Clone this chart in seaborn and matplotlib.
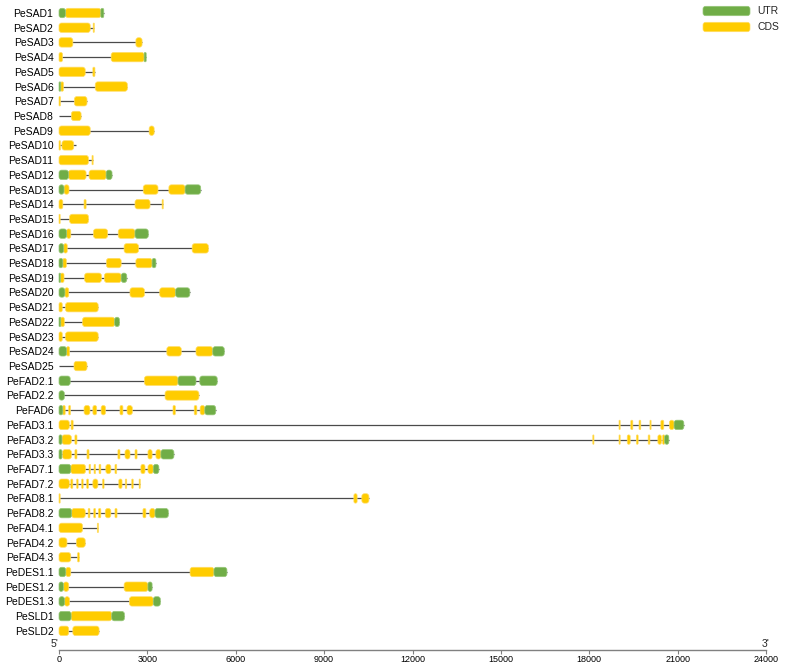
import matplotlib
matplotlib.use("Agg")
import matplotlib.pyplot as plt
from matplotlib.patches import FancyBboxPatch
import seaborn as sns

# gene structure data (bp)
genes = ["PeSAD1", "PeSAD2", "PeSAD3", "PeSAD4", "PeSAD5", "PeSAD6", "PeSAD7", "PeSAD8",
         "PeSAD9", "PeSAD10", "PeSAD11", "PeSAD12", "PeSAD13", "PeSAD14", "PeSAD15",
         "PeSAD16", "PeSAD17", "PeSAD18", "PeSAD19", "PeSAD20", "PeSAD21", "PeSAD22",
         "PeSAD23", "PeSAD24", "PeSAD25", "PeFAD2.1", "PeFAD2.2", "PeFAD6", "PeFAD3.1",
         "PeFAD3.2", "PeFAD3.3", "PeFAD7.1", "PeFAD7.2", "PeFAD8.1", "PeFAD8.2",
         "PeFAD4.1", "PeFAD4.2", "PeFAD4.3", "PeDES1.1", "PeDES1.2", "PeDES1.3",
         "PeSLD1", "PeSLD2"]

gene_len = [1520, 1200, 2820, 2960, 1220, 2320, 950, 750, 3230, 570, 1160, 1800, 4810,
            3540, 1000, 3030, 5070, 3290, 2300, 4440, 1330, 2050, 1330, 5610, 950, 5370,
            4750, 5320, 21210, 20700, 3900, 3390, 2760, 10520, 3710, 1340, 890, 690,
            5700, 3160, 3440, 2220, 1360]

utr = [
    [(0, 220), (1420, 1520)], [], [], [(2890, 2960)], [], [(0, 60)], [], [], [], [], [],
    [(0, 320), (1600, 1800)], [(0, 170), (4280, 4810)], [], [],
    [(0, 260), (2580, 3030)], [(0, 160)], [(0, 130), (3160, 3290)],
    [(0, 50), (2110, 2300)], [(0, 200), (3960, 4440)], [], [(0, 60), (1890, 2050)], [],
    [(0, 260), (5220, 5610)], [],
    [(0, 380), (4040, 4650), (4780, 5370)], [(0, 180)], [(0, 130), (4950, 5320)],
    [(20880, 21210)], [(0, 100), (20560, 20700)], [(0, 100), (3460, 3900)],
    [(0, 400), (3200, 3390)], [], [], [(0, 430), (3260, 3710)], [], [], [],
    [(0, 230), (5260, 5700)], [(0, 150), (3020, 3160)], [(0, 190), (3200, 3440)],
    [(0, 410), (1790, 2220)], [],
]

cds = [
    [(220, 1420)],
    [(0, 1060), (1160, 1200)],
    [(0, 470), (2610, 2820)],
    [(0, 120), (1770, 2890)],
    [(0, 890), (1150, 1220)],
    [(60, 150), (1230, 2320)],
    [(0, 50), (520, 950)],
    [(420, 750)],
    [(0, 1060), (3060, 3230)],
    [(0, 50), (100, 500)],
    [(0, 1000), (1120, 1160)],
    [(320, 920), (1020, 1600)],
    [(170, 340), (2860, 3360), (3730, 4280)],
    [(0, 130), (850, 920), (2580, 3090), (3500, 3540)],
    [(0, 40), (360, 1000)],
    [(260, 400), (1170, 1650), (2010, 2580)],
    [(160, 280), (2210, 2700), (4520, 5070)],
    [(130, 250), (1610, 2110), (2610, 3160)],
    [(50, 170), (870, 1440), (1540, 2110)],
    [(200, 330), (2410, 2900), (3420, 3960)],
    [(0, 110), (220, 1330)],
    [(60, 180), (800, 1890)],
    [(0, 110), (220, 1330)],
    [(260, 360), (3660, 4150), (4650, 5220)],
    [(510, 950)],
    [(2900, 4040)],
    [(3600, 4750)],
    [(130, 210), (330, 390), (850, 1050), (1150, 1280), (1430, 1580), (2070, 2170),
     (2310, 2490), (3870, 3950), (4590, 4680), (4790, 4950)],
    [(0, 350), (410, 480), (19010, 19050), (19410, 19480), (19690, 19750),
     (20060, 20100), (20430, 20530), (20720, 20880)],
    [(100, 420), (540, 610), (18120, 18160), (19010, 19050), (19290, 19390),
     (19600, 19660), (20000, 20060), (20330, 20450), (20490, 20560)],
    [(120, 420), (540, 610), (950, 1020), (2000, 2070), (2240, 2410), (2580, 2650),
     (3020, 3160), (3290, 3460)],
    [(400, 900), (1020, 1070), (1190, 1240), (1360, 1420), (1590, 1760), (1900, 1960),
     (2780, 2920), (3020, 3200)],
    [(0, 350), (400, 470), (600, 650), (770, 820), (940, 1000), (1150, 1320),
     (1480, 1530), (2030, 2140), (2250, 2300), (2470, 2520), (2720, 2760)],
    [(0, 40), (10010, 10120), (10280, 10520)],
    [(430, 890), (990, 1050), (1180, 1240), (1340, 1420), (1570, 1760), (1900, 1970),
     (2850, 2950), (3080, 3260)],
    [(0, 800), (1300, 1340)],
    [(0, 270), (590, 890)],
    [(0, 400), (630, 690)],
    [(230, 400), (4450, 5260)],
    [(150, 330), (2210, 3020)],
    [(190, 360), (2390, 3200)],
    [(410, 1790)],
    [(0, 330), (470, 1360)],
]

x_ticks = [0, 3000, 6000, 9000, 12000, 15000, 18000, 21000, 24000]

UTR_COLOR = "#70AD47"
CDS_COLOR = "#FFCC00"

sns.set_theme(style="white")
plt.rcParams["font.family"] = ["Liberation Sans", "DejaVu Sans"]

W, H = 798, 665
fig = plt.figure(figsize=(W / 100, H / 100), dpi=100)
# axes spans x 59..766 px and y 3..650 px
ax = fig.add_axes([59 / W, (H - 650) / H, 707 / W, 647 / H])

row_px = 14.71
y_top = (3 - 13) / row_px
y_bot = (650 - 13) / row_px
ax.set_xlim(0, 24000)
ax.set_ylim(y_bot, y_top)

bp_per_px = 24000 / 707
rows_per_px = 1 / row_px
aspect = rows_per_px / bp_per_px
bar_h = 9.4 / row_px
round_r = 2.6 * bp_per_px


def draw_box(x0, x1, y, color, edge):
    w = x1 - x0
    r = min(round_r, w / 2, (bar_h / aspect) / 2)
    p = FancyBboxPatch((x0, y - bar_h / 2), w, bar_h,
                       boxstyle=f"round,pad=0,rounding_size={r}",
                       mutation_aspect=aspect, facecolor=color,
                       edgecolor=edge, linewidth=0.5, zorder=3, clip_on=False)
    ax.add_patch(p)


for i, name in enumerate(genes):
    ax.plot([0, gene_len[i]], [i, i], color="#4a4a4a", lw=0.9, zorder=1,
            solid_capstyle="butt")
    for s, e in cds[i]:
        draw_box(s, e, i, CDS_COLOR, "#FFDD66")
    for s, e in utr[i]:
        draw_box(s, e, i, UTR_COLOR, "#98C87A")

ax.set_yticks(range(len(genes)))
ax.set_yticklabels(genes, fontsize=7.5, color="black")
ax.tick_params(axis="y", length=0, pad=4)

ax.set_xticks(x_ticks)
ax.set_xticklabels([str(t) for t in x_ticks], fontsize=6.5, color="black")
ax.tick_params(axis="x", direction="out", length=3, width=0.8, color="#808080",
               pad=0.8, bottom=True)

sns.despine(ax=ax, left=True, top=True, right=True)
ax.spines["bottom"].set_color("#808080")
ax.spines["bottom"].set_linewidth(1.0)

ax.annotate("5'", xy=(0, 0), xycoords=("data", "axes fraction"),
            xytext=(-0.5, 0.5), textcoords="offset points",
            ha="right", va="bottom", fontsize=7.5)
ax.annotate("3'", xy=(24000, 0), xycoords=("data", "axes fraction"),
            xytext=(0, 0.5), textcoords="offset points",
            ha="center", va="bottom", fontsize=7.5)

# legend (top right)
leg_x0 = (703 - 59) * bp_per_px
leg_x1 = (750 - 59) * bp_per_px
leg_tx = (757 - 59) * bp_per_px
for label, color, edge, py in [("UTR", UTR_COLOR, "#98C87A", 11),
                               ("CDS", CDS_COLOR, "#FFDD66", 27)]:
    yy = (py - 13) / row_px
    draw_box(leg_x0, leg_x1, yy, color, edge)
    ax.text(leg_tx, yy, label, fontsize=7.5, va="center", ha="left", clip_on=False)

fig.savefig("out.png", dpi=100)
